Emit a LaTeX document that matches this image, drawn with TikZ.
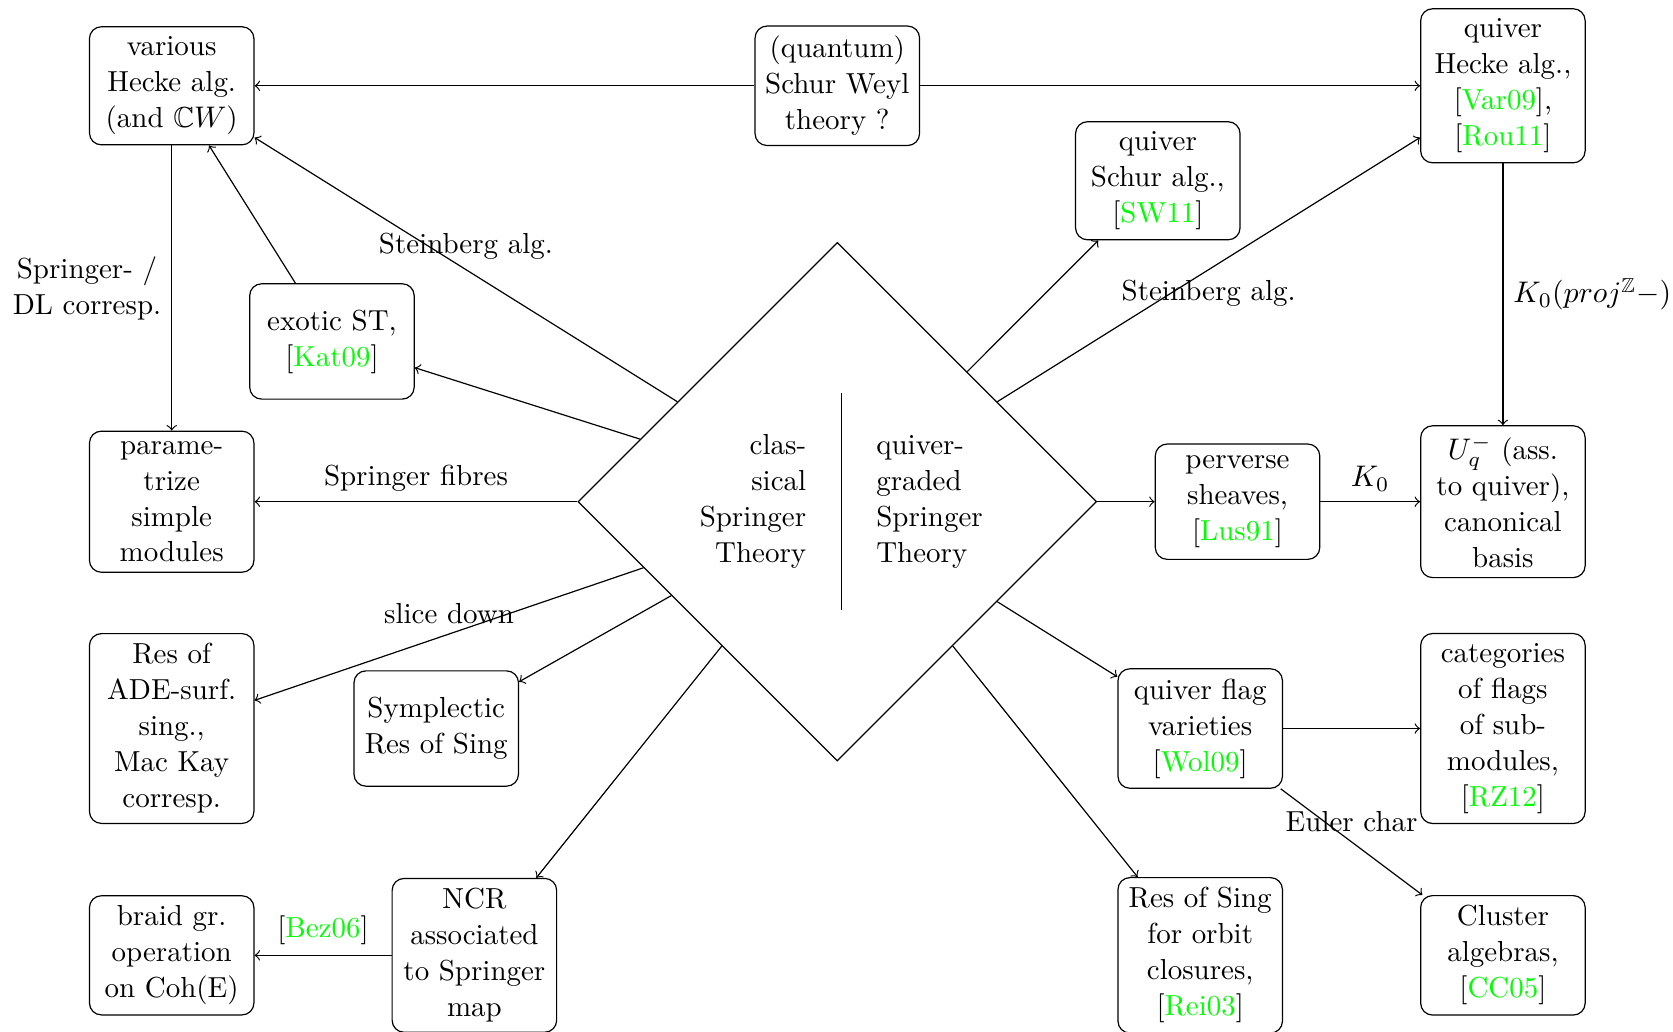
\documentclass[tikz,border=0pt]{standalone}
\usepackage{amsfonts}
\usepackage{tikz}
\usetikzlibrary{shapes.geometric}

\newcommand{\citeg}[1]{[{\color{green}#1}]}

\begin{document}
\begin{tikzpicture}[font=\fontsize{9.72}{12.07}\selectfont,
    box/.style={draw, rounded corners, align=center, minimum width=1.94cm, minimum height=1.36cm, inner xsep=2pt}]
    \useasboundingbox (-9.875,-6.243) rectangle (9.856,5.917);

    % Centre {dia, clas, quiv}
    \node [draw, diamond, minimum size=6.116cm]        (dia)      at (0,0)          {};
    \node [align=right, anchor=east, inner sep=0pt]    (clas)     at (-0.36,0)      {clas-\\sical\\Springer\\Theory};
    \node [align=left, anchor=west, inner sep=0pt]     (quiv)     at (0.453,0)      {quiver-\\graded\\Springer\\Theory};
    \draw ([shift={(0.05,1.28)}]dia.center) -- ([shift={(0.05,-1.28)}]dia.center);

    % Nodes {hecke, schur, qhecke, qschur, exotic, param, perverse, uq, ...}
    \node [box]     (hecke)    at (-7.85,4.905)   {various\\Hecke alg.\\(and $\mathbb{C}W$)};
    \node [box]     (schur)    at (0,4.905)       {(quantum)\\Schur Weyl\\theory ?};
    \node [box]     (qhecke)   at (7.85,4.905)    {quiver\\Hecke alg.,\\\citeg{Var09},\\\citeg{Rou11}};
    \node [box]     (qschur)   at (3.78,3.785)    {quiver\\Schur alg.,\\\citeg{SW11}};
    \node [box]     (exotic)   at (-5.96,1.89)    {exotic ST,\\\citeg{Kat09}};
    \node [box]     (param)    at (-7.85,0)       {parame-\\trize\\simple\\modules};
    \node [box]     (perverse) at (4.72,0)        {perverse\\sheaves,\\\citeg{Lus91}};
    \node [box]     (uq)       at (7.85,0)        {$U_q^-$ (ass.\\to quiver),\\canonical\\basis};
    \node [box]     (ade)      at (-7.85,-2.675)  {Res of\\ADE-surf.\\sing.,\\Mac Kay\\corresp.};
    \node [box]     (symp)     at (-4.73,-2.675)  {Symplectic\\Res of Sing};
    \node [box]     (flag)     at (4.28,-2.675)   {quiver flag\\varieties\\\citeg{Wol09}};
    \node [box]     (cats)     at (7.85,-2.675)   {categories\\of flags\\of sub-\\modules,\\\citeg{RZ12}};
    \node [box]     (braid)    at (-7.85,-5.35)   {braid gr.\\operation\\on Coh(E)};
    \node [box]     (ncr)      at (-4.28,-5.35)   {NCR\\associated\\to Springer\\map};
    \node [box]     (reso)     at (4.28,-5.35)    {Res of Sing\\for orbit\\closures,\\\citeg{Rei03}};
    \node [box]     (cluster)  at (7.85,-5.35)    {Cluster\\algebras,\\\citeg{CC05}};

    % Paths
    \path [->]  (schur)    edge                                                 (hecke);
    \path [->]  (schur)    edge                                                 (qhecke);
    \path [->]  (hecke)    edge  node [left, align=center] {Springer- /\\DL corresp.}  (param);
    \path [->]  (exotic)   edge                                                 (hecke);
    \path [->]  (dia)      edge  node [above]  {Steinberg alg.}                 (hecke);
    \path [->]  (dia)      edge                                                 (exotic);
    \path [->]  (dia)      edge  node [above]  {Springer fibres}                (param);
    \path [->]  (dia)      edge  node [above]  {slice down}                     (ade);
    \path [->]  (dia)      edge                                                 (symp);
    \path [->]  (dia)      edge                                                 (ncr);
    \path [->]  (ncr)      edge  node [above]  {\citeg{Bez06}}                  (braid);
    \path [->]  (dia)      edge                                                 (qschur);
    \path [->]  (dia)      edge  node [below]  {Steinberg alg.}                 (qhecke);
    \path [->]  (dia)      edge                                                 (perverse);
    \path [->]  (perverse) edge  node [above]  {$K_0$}                          (uq);
    \path [->]  (qhecke)   edge  node [right]  {$K_0(proj^{\mathbb{Z}}-)$}      (uq);
    \path [->]  (dia)      edge                                                 (flag);
    \path [->]  (dia)      edge                                                 (reso);
    \path [->]  (flag)     edge                                                 (cats);
    \path [->]  (flag)     edge  node [above]  {Euler char}                     (cluster);

\end{tikzpicture}
\end{document}
